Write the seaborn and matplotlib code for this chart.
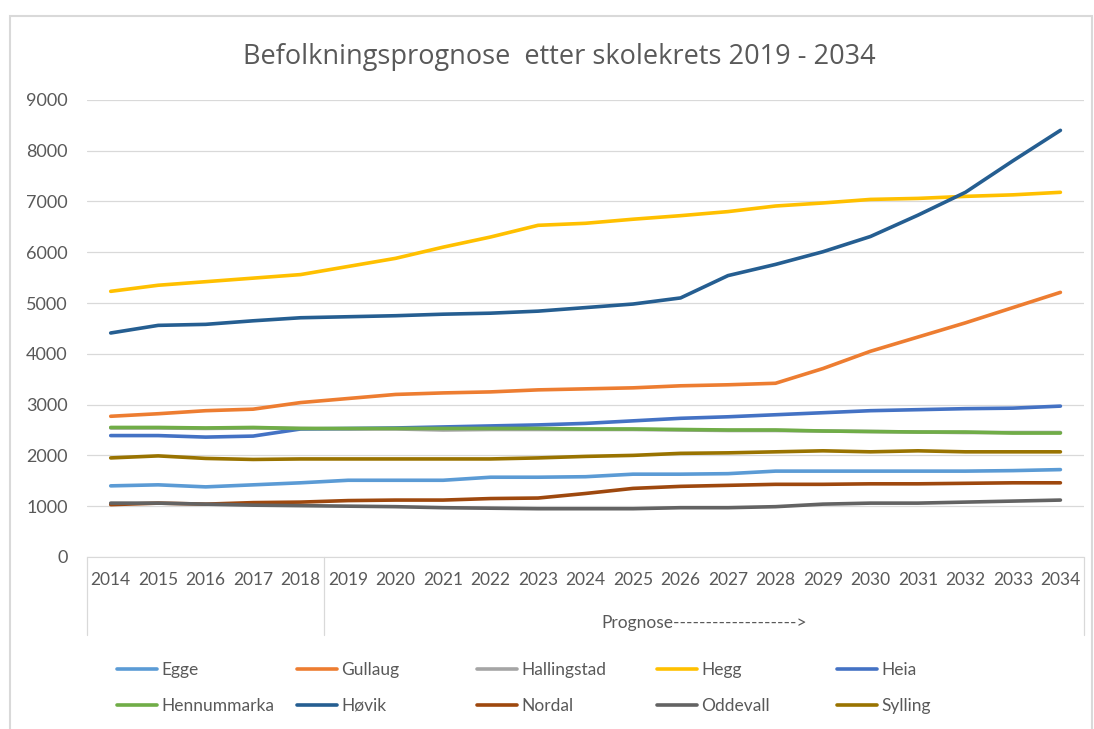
# Befolkningsprognose etter skolekrets 2019 - 2034

import pandas as pd
import seaborn as sns
import matplotlib.pyplot as plt
from matplotlib.patches import Rectangle

# ==================
# Data

years = list(range(2014, 2035))

egge = [1400, 1420, 1380, 1420, 1460, 1510, 1510, 1510, 1570, 1570, 1580,
        1630, 1630, 1640, 1690, 1690, 1690, 1690, 1690, 1700, 1720]
gullaug = [2770, 2820, 2880, 2910, 3040, 3120, 3200, 3230, 3250, 3290, 3310,
           3330, 3370, 3390, 3420, 3710, 4050, 4330, 4610, 4910, 5210]
hallingstad = [2540, 2540, 2530, 2540, 2530, 2520, 2520, 2500, 2510, 2510, 2510,
               2510, 2500, 2490, 2490, 2480, 2470, 2460, 2450, 2450, 2450]
hegg = [5230, 5350, 5420, 5490, 5560, 5720, 5880, 6100, 6300, 6530, 6570,
        6650, 6720, 6800, 6910, 6970, 7040, 7060, 7100, 7130, 7180]
heia = [2390, 2390, 2360, 2380, 2520, 2530, 2540, 2560, 2580, 2600, 2630,
        2680, 2730, 2760, 2800, 2840, 2880, 2900, 2920, 2930, 2970]
hennummarka = [2550, 2550, 2540, 2550, 2530, 2530, 2530, 2530, 2530, 2530, 2520,
               2520, 2510, 2500, 2500, 2480, 2470, 2460, 2460, 2440, 2440]
hovik = [4410, 4560, 4580, 4650, 4710, 4730, 4750, 4780, 4800, 4840, 4910,
         4980, 5100, 5540, 5760, 6010, 6310, 6730, 7180, 7800, 8400]
nordal = [1030, 1060, 1040, 1070, 1080, 1110, 1120, 1120, 1150, 1160, 1250,
          1350, 1390, 1410, 1430, 1430, 1440, 1440, 1450, 1460, 1460]
oddevall = [1060, 1060, 1040, 1020, 1010, 1000, 990, 970, 960, 950, 950,
            950, 970, 970, 990, 1040, 1060, 1060, 1080, 1100, 1120]
sylling = [1950, 1990, 1940, 1920, 1930, 1930, 1930, 1930, 1930, 1950, 1980,
           2000, 2040, 2050, 2070, 2090, 2070, 2090, 2070, 2070, 2070]

schools = ['Egge', 'Gullaug', 'Hallingstad', 'Hegg', 'Heia',
           'Hennummarka', 'Høvik', 'Nordal', 'Oddevall', 'Sylling']
series = [egge, gullaug, hallingstad, hegg, heia,
          hennummarka, hovik, nordal, oddevall, sylling]
colours = ['#5B9BD5', '#ED7D31', '#A5A5A5', '#FFC000', '#4472C4',
           '#70AD47', '#255E91', '#9E480E', '#636363', '#997300']

title = 'Befolkningsprognose  etter skolekrets 2019 - 2034'
group_label = 'Prognose------------------->'

# long format for seaborn
data = pd.DataFrame({'year': years * len(schools),
                     'school': [s for s in schools for _ in years],
                     'value': [v for vals in series for v in vals]})

# ==================
# Plot

sns.set_style('white')
plt.rcParams['font.family'] = ['Lato', 'DejaVu Sans']
txt_col = '#595959'
grid_col = '#D9D9D9'

fig = plt.figure(figsize=(10.94, 7.29), dpi=100)
ax = fig.add_axes([0.0795, 0.236, 0.9115, 0.627])

sns.lineplot(data=data, x='year', y='value', hue='school', hue_order=schools,
             palette=colours, linewidth=2.6, legend=False, ax=ax)

ax.set_xlim(2013.5, 2034.5)
ax.set_ylim(0, 9000)
ax.set_yticks(range(0, 9001, 1000))
ax.set_xticks(years)
ax.set_xticklabels([str(y) for y in years])
ax.tick_params(axis='y', length=0, pad=14, labelsize=13, labelcolor=txt_col)
ax.tick_params(axis='x', length=0, pad=11, labelsize=12.5, labelcolor=txt_col)
ax.set_xlabel('')
ax.set_ylabel('')
ax.yaxis.grid(True, color=grid_col, linewidth=0.9)
ax.set_axisbelow(True)
for side in ['top', 'right', 'left']:
    ax.spines[side].set_visible(False)
ax.spines['bottom'].set_color(grid_col)

# multi-level category axis: separators and group label
trans = ax.get_xaxis_transform()
for xb in [2013.5, 2018.5, 2034.5]:
    ax.plot([xb, xb], [0, -0.17], color=grid_col, linewidth=0.9,
            transform=trans, clip_on=False)
ax.text((2018.5 + 2034.5) / 2, -0.145, group_label, transform=trans,
        ha='center', va='center', fontsize=12.5, color=txt_col)

fig.suptitle(title, x=0.511, y=0.922, va='center', fontsize=19.5,
             color=txt_col, family=['Open Sans', 'DejaVu Sans'])

# legend: five fixed-width columns of two rows, like Excel
lines = ax.get_lines()[:len(schools)]
for col in range(5):
    idx = [col, col + 5]
    fig.legend([lines[i] for i in idx], [schools[i] for i in idx],
               loc='upper left', bbox_to_anchor=(0.107 + col * 0.1646, 0.092),
               frameon=False, fontsize=12.5, labelcolor=txt_col,
               handlelength=2.3, handletextpad=0.25, labelspacing=1.15,
               borderaxespad=0, borderpad=0)

# light frame round the chart area
fig.patches.append(Rectangle((0.0091, -0.01), 0.989, 0.988, transform=fig.transFigure,
                             fill=False, edgecolor=grid_col, linewidth=1.5))

plt.savefig('out.png', dpi=100)
